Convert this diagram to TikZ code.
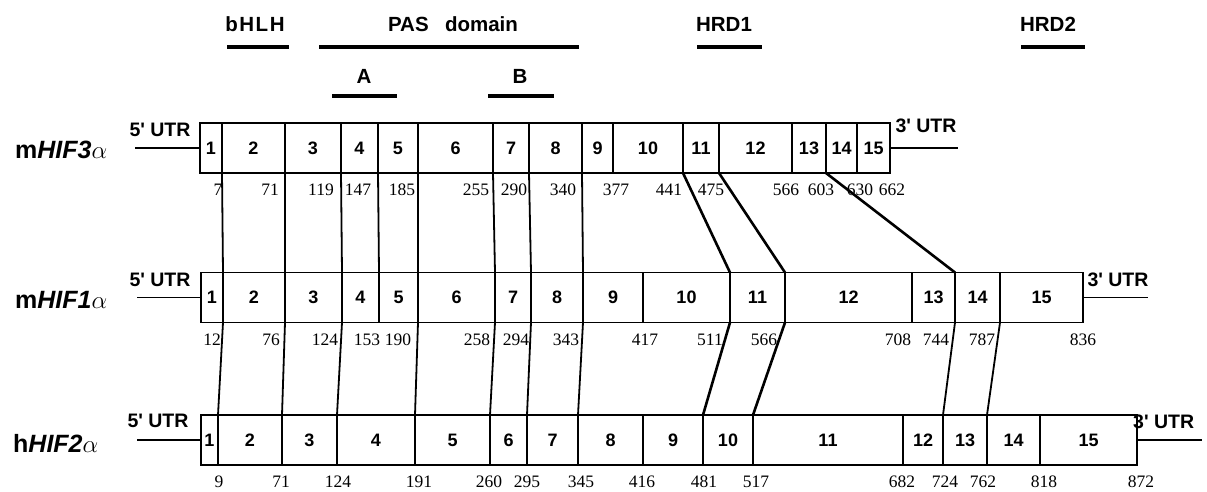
\documentclass[tikz,border=0pt]{standalone}
\usepackage{fontspec}
\setmainfont{Liberation Serif}
\newfontfamily\hel{Liberation Sans}
\begin{document}
\begin{tikzpicture}[x=1pt,y=-1pt,
  exon/.style={draw, line width=1.6pt, rectangle, inner sep=0pt, outer sep=0pt, minimum height=50pt, font=\hel\bfseries\fontsize{18}{18}\selectfont},
  num/.style={font=\fontsize{17.5}{17.5}\selectfont, inner sep=0pt},
  conn/.style={line width=1.8pt},
  diag/.style={line width=2.6pt},
  utr/.style={font=\hel\bfseries\fontsize{19.5}{19.5}\selectfont, inner sep=0pt},
  utrline/.style={line width=1.6pt},
  dom/.style={line width=4pt},
  domlabel/.style={font=\hel\bfseries\fontsize{20.5}{20.5}\selectfont, inner sep=0pt},
  gene/.style={font=\hel\bfseries\fontsize{25}{25}\selectfont, inner sep=0pt, anchor=west}]
\useasboundingbox (0,0) rectangle (1207,491);

% domain annotations
\node[domlabel] (bhlh) at (255,24) {b\kern1.5pt H\kern1.5pt L\kern1.5pt H};
\node[domlabel] (pas) at (453,24) {PAS\hspace{0.8em}domain};
\node[domlabel] (pasA) at (364,76) {A};
\node[domlabel] (pasB) at (520,76) {B};
\node[domlabel] (hrd1) at (724,24) {HRD1};
\node[domlabel] (hrd2) at (1048,24) {HRD2};
\draw[dom] (227,47) -- (289,47);
\draw[dom] (319,47) -- (579,47);
\draw[dom] (332,96) -- (397,96);
\draw[dom] (488,96) -- (554,96);
\draw[dom] (697,47) -- (762,47);
\draw[dom] (1021,47) -- (1085,47);

% gene names
\node[gene] (g3) at (15,150) {m\textit{HIF3}$\alpha$};
\node[gene] (g1) at (15,300) {m\textit{HIF1}$\alpha$};
\node[gene] (g2) at (13,443) {h\textit{HIF2}$\alpha$};

% exon rows
\foreach \a/\b [count=\i] in {200/222,222/285,285/341,341/378,378/418,418/493,493/529,529/582,582/613,613/683,683/719,719/792,792/826,826/857,857/890}
  \node[exon, minimum width={(\b-\a)*1pt}] (r1e\i) at ({(\a+\b)/2},148) {\i};
\foreach \a/\b [count=\i] in {201/223,223/285,285/342,342/379,379/418,418/495,495/531,531/583,583/643,643/730,730/785,785/912,912/955,955/1000,1000/1083}
  \node[exon, minimum width={(\b-\a)*1pt}] (r2e\i) at ({(\a+\b)/2},297.5) {\i};
\foreach \a/\b [count=\i] in {201/218,218/282,282/337,337/415,415/490,490/527,527/578,578/643,643/703,703/753,753/903,903/943,943/987,987/1040,1040/1137}
  \node[exon, minimum width={(\b-\a)*1pt}] (r3e\i) at ({(\a+\b)/2},440) {\i};

% UTR labels and lines
\node[utr] (u5a) at (160,130) {5' UTR};
\node[utr] (u5b) at (160,280) {5' UTR};
\node[utr] (u5c) at (158,421) {5' UTR};
\node[utr] (u3a) at (926,126) {3' UTR};
\node[utr] (u3b) at (1118,280) {3' UTR};
\node[utr, anchor=west] (u3c) at (1133,422) {3' UTR};
\coordinate (l5a) at (135,148);
\coordinate (l5b) at (137,297.5);
\coordinate (l5c) at (137,440);
\coordinate (l3a) at (958,148);
\coordinate (l3b) at (1148,297.5);
\coordinate (l3c) at (1202,440);
\draw[utrline] (l5a) -- (r1e1.west);
\draw[utrline] (l5b) -- (r2e1.west);
\draw[utrline] (l5c) -- (r3e1.west);
\draw[utrline] (r1e15.east) -- (l3a);
\draw[utrline] (r2e15.east) -- (l3b);
\draw[utrline] (r3e15.east) -- (l3c);
\draw[line width=1.6pt] (r3e15.north east) -- (r3e15.south east);

% connectors row 1 -> row 2
\foreach \k in {2,3,4,5,6,7,8,9}
  \draw[conn] (r1e\k.south west) -- (r2e\k.north west);
\foreach \k in {11,12,14}
  \draw[diag] (r1e\k.south west) -- (r2e\k.north west);
% connectors row 2 -> row 3
\foreach \p/\q in {2/2,3/3,4/4,6/5,7/6,8/7,9/8,14/13,15/14}
  \draw[conn] (r2e\p.south west) -- (r3e\q.north west);
\foreach \p/\q in {11/10,12/11}
  \draw[diag] (r2e\p.south west) -- (r3e\q.north west);

% position numbers
\foreach \x/\t in {218/7,270/71,321/119,358/147,402/185,476/255,514/290,563/340,616/377,669/441,711/475,786/566,821/603,860/630,892/662}
  \node[num] (na-\t) at (\x,190) {\t};
\foreach \x/\t in {212/12,271/76,325/124,367/153,398/190,477/258,516/294,566/343,645/417,710/511,764/566,898/708,936/744,982/787,1083/836}
  \node[num] (nb-\t) at (\x,340) {\t};
\foreach \x/\t in {219/9,281/71,338/124,419/191,489/260,527/295,581/345,642/416,704/481,756/517,902/682,945/724,983/762,1044/818,1141/872}
  \node[num] (nc-\t) at (\x,482) {\t};
\end{tikzpicture}
\end{document}
